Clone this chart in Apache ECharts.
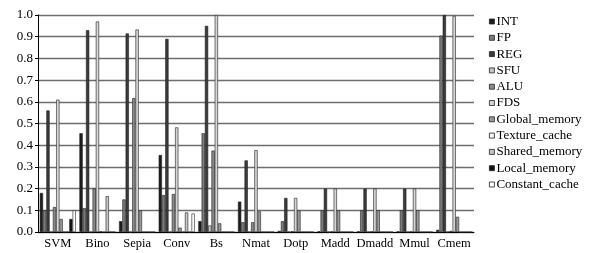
<!DOCTYPE html>
<html>
<head>
<meta charset="utf-8">
<script src="https://cdn.jsdelivr.net/npm/echarts@6/dist/echarts.min.js"></script>
<style>
  html, body { margin: 0; padding: 0; background: #fff; }
  #chart { width: 594px; height: 253px; }
</style>
</head>
<body>
<div id="chart"></div>
<script>
// categories (benchmarks)
var benchmarks = ['SVM', 'Bino', 'Sepia', 'Conv', 'Bs', 'Nmat', 'Dotp', 'Madd', 'Dmadd', 'Mmul', 'Cmem'];

// one array per component
var INT            = [0.18, 0.455, 0.05, 0.355, 0.05, 0.14, 0.005, 0.003, 0.003, 0.003, 0.01];
var FP             = [0.10, 0.11, 0.15, 0.17, 0.455, 0.045, 0.05, 0.10, 0.10, 0.10, 0.905];
var REG            = [0.56, 0.93, 0.915, 0.89, 0.95, 0.33, 0.157, 0.20, 0.20, 0.20, 1.0];
var SFU            = [0, 0, 0, 0, 0.03, 0, 0, 0, 0, 0, 0];
var ALU            = [0.115, 0.20, 0.617, 0.175, 0.375, 0.045, 0.003, 0.002, 0.002, 0.002, 0.005];
var FDS            = [0.61, 0.97, 0.933, 0.482, 1.0, 0.377, 0.157, 0.20, 0.20, 0.20, 0.995];
var Global_memory  = [0.06, 0.003, 0.10, 0.02, 0.04, 0.095, 0.10, 0.10, 0.10, 0.10, 0.07];
var Texture_cache  = [0, 0, 0, 0, 0, 0, 0, 0, 0, 0, 0];
var Shared_memory  = [0, 0.165, 0, 0.09, 0, 0, 0, 0, 0, 0, 0];
var Local_memory   = [0.06, 0, 0, 0, 0, 0, 0, 0, 0, 0, 0];
var Constant_cache = [0.10, 0, 0, 0.085, 0, 0, 0, 0, 0, 0, 0];

var yTicks = ['0.0', '0.1', '0.2', '0.3', '0.4', '0.5', '0.6', '0.7', '0.8', '0.9', '1.0'];

var seriesList = [
  ['INT', INT, '#1c1c1c'],
  ['FP', FP, '#7a7a7a'],
  ['REG', REG, '#3a3a3a'],
  ['SFU', SFU, '#c8c8c8'],
  ['ALU', ALU, '#8a8a8a'],
  ['FDS', FDS, '#d4d4d4'],
  ['Global_memory', Global_memory, '#9a9a9a'],
  ['Texture_cache', Texture_cache, '#f4f4f4'],
  ['Shared_memory', Shared_memory, '#c4c4c4'],
  ['Local_memory', Local_memory, '#111111'],
  ['Constant_cache', Constant_cache, '#ffffff']
];

var font = 'Liberation Serif';

var series = seriesList.map(function (s) {
  return {
    name: s[0],
    type: 'bar',
    data: s[1],
    barGap: '0%',
    barCategoryGap: '9%',
    itemStyle: { color: s[2], borderColor: '#222', borderWidth: 0.6 },
    animation: false
  };
});

var myChart = echarts.init(document.getElementById('chart'));
var option = {
  animation: false,
  grid: { left: 38, right: 120, top: 15, bottom: 21 },
  legend: {
    orient: 'vertical',
    left: 484,
    top: 10,
    itemWidth: 5,
    itemHeight: 5,
    itemGap: 3.3,
    icon: 'rect',
    textStyle: { fontFamily: font, fontSize: 13, lineHeight: 13, color: '#000', padding: [0, 0, 0, -3] },
    data: seriesList.map(function (s) {
      return { name: s[0], itemStyle: { color: s[2], borderColor: '#222', borderWidth: 0.8 } };
    })
  },
  xAxis: {
    type: 'category',
    data: benchmarks,
    axisLine: { lineStyle: { color: '#000', width: 1 } },
    axisTick: { alignWithLabel: true, length: 3, lineStyle: { color: '#000' } },
    axisLabel: { interval: 0, fontFamily: font, fontSize: 12.5, color: '#000', margin: 5 }
  },
  yAxis: {
    type: 'value',
    min: 0,
    max: 1,
    interval: 0.1,
    axisLine: { show: true, lineStyle: { color: '#000', width: 1 } },
    axisTick: { show: true, length: 3, lineStyle: { color: '#000' } },
    axisLabel: {
      fontFamily: font, fontSize: 13, color: '#000', margin: 5,
      formatter: function (v) { return yTicks[Math.round(v * 10)]; }
    },
    splitLine: { lineStyle: { color: '#6e6e6e', width: 1.3 } }
  },
  series: series
};
myChart.setOption(option);
</script>
</body>
</html>
